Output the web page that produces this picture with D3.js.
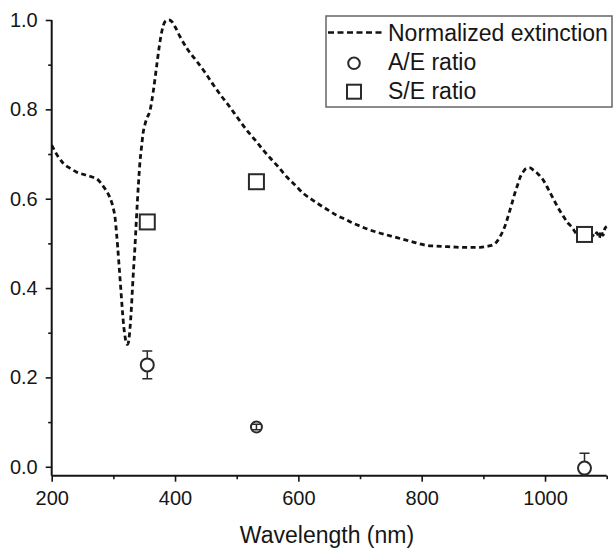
<!DOCTYPE html>
<html>
<head>
<meta charset="utf-8">
<script src="https://cdn.jsdelivr.net/npm/d3@7"></script>
<style>
  html, body { margin: 0; padding: 0; background: #fff; }
  svg { display: block; font-family: "Liberation Sans", Arial, sans-serif; }
</style>
</head>
<body>
<svg id="chart" width="613" height="548"></svg>
<script>
// Normalized extinction spectrum (wavelength in nm, value)
const extWavelength = [200, 210, 219, 230, 240, 255, 267, 276, 284, 291, 297, 300, 303, 305, 307, 309, 311, 313, 315, 317, 319, 321, 323, 325, 327, 329, 331, 333, 335, 337, 339, 341, 343, 346, 348, 351, 355, 359, 365, 370, 376, 381, 386, 390, 395, 400, 408, 420, 435, 450, 462, 475, 489, 502, 516, 530, 543, 555, 567, 581, 595, 608, 622, 635, 649, 662, 676, 689, 703, 716, 730, 743, 757, 770, 784, 797, 810, 820, 835, 851, 865, 880, 895, 905, 916, 922, 927, 934, 940, 946, 951, 956, 960, 965, 970, 976, 981, 989, 997, 1005, 1013, 1021, 1030, 1037, 1043, 1048, 1052, 1055, 1058, 1061, 1064, 1068, 1072, 1076, 1080, 1084, 1088, 1091, 1094, 1097, 1100];
const extValue      = [0.720, 0.695, 0.679, 0.668, 0.660, 0.653, 0.648, 0.641, 0.627, 0.612, 0.593, 0.578, 0.555, 0.525, 0.492, 0.455, 0.418, 0.380, 0.343, 0.312, 0.291, 0.276, 0.274, 0.283, 0.310, 0.350, 0.400, 0.448, 0.492, 0.545, 0.595, 0.640, 0.680, 0.720, 0.745, 0.765, 0.782, 0.795, 0.843, 0.895, 0.955, 0.988, 0.999, 1.000, 0.996, 0.985, 0.963, 0.935, 0.908, 0.880, 0.855, 0.830, 0.805, 0.780, 0.754, 0.731, 0.709, 0.690, 0.672, 0.649, 0.630, 0.612, 0.598, 0.586, 0.574, 0.563, 0.554, 0.545, 0.537, 0.530, 0.524, 0.519, 0.514, 0.509, 0.504, 0.499, 0.495, 0.494, 0.493, 0.492, 0.491, 0.491, 0.491, 0.493, 0.497, 0.504, 0.515, 0.535, 0.560, 0.588, 0.612, 0.633, 0.649, 0.661, 0.668, 0.669, 0.664, 0.655, 0.642, 0.622, 0.601, 0.580, 0.560, 0.546, 0.537, 0.527, 0.519, 0.513, 0.523, 0.516, 0.521, 0.526, 0.512, 0.520, 0.515, 0.524, 0.512, 0.528, 0.518, 0.533, 0.538];

// Absorption / extinction ratio with error
const aeWavelength = [355, 532, 1064];
const aeValue      = [0.228, 0.089, -0.003];
const aeError      = [0.031, 0.006, 0.033];

// Scattering / extinction ratio
const seWavelength = [355, 532, 1064];
const seValue      = [0.548, 0.638, 0.520];

const xTicks = [200, 400, 600, 800, 1000];
const xMinorTicks = [300, 500, 700, 900, 1100];
const yTicks = [0.0, 0.2, 0.4, 0.6, 0.8, 1.0];
const yMinorTicks = [0.1, 0.3, 0.5, 0.7, 0.9];

const legendLabels = ["Normalized extinction", "A/E ratio", "S/E ratio"];
const xTitle = "Wavelength (nm)";

const svg = d3.select("#chart");
const x = d3.scaleLinear().domain([200, 1100]).range([51.7, 606.7]);
const y = d3.scaleLinear().domain([-0.02, 1.0]).range([475.7, 20]);

const ink = "#141414";
const markInk = "#2a2a2a";
const textInk = "#161616";

// clip region for data marks
svg.append("defs").append("clipPath").attr("id", "plotClip")
  .append("rect")
  .attr("x", x(200)).attr("y", 0)
  .attr("width", x(1100) - x(200) + 10).attr("height", y(-0.02) - 0);

// Axes
const xAxis = svg.append("g").attr("transform", `translate(0,${y(-0.02)})`);
xAxis.call(d3.axisBottom(x).tickValues(xTicks).tickSize(6).tickPadding(9).tickFormat(d3.format("d")));
xAxis.append("g").call(d3.axisBottom(x).tickValues(xMinorTicks).tickSize(3.5).tickFormat(""))
  .select(".domain").remove();

const yAxis = svg.append("g").attr("transform", `translate(${x(200)},0)`);
yAxis.call(d3.axisLeft(y).tickValues(yTicks).tickSize(6).tickPadding(8).tickFormat(d3.format(".1f")));
yAxis.append("g").call(d3.axisLeft(y).tickValues(yMinorTicks).tickSize(3.5).tickFormat(""))
  .select(".domain").remove();

svg.selectAll(".domain").attr("stroke", ink).attr("stroke-width", 2);
// domain paths without end ticks
xAxis.select(".domain").attr("d", `M${x(200)},0H${x(1100)}`);
yAxis.select(".domain").attr("d", `M0,${y(-0.02)}V${y(1.0)}`);
svg.selectAll(".tick line").attr("stroke", ink).attr("stroke-width", 1.6);
xAxis.attr("font-size", 20).attr("font-family", "'Liberation Sans', Arial, sans-serif");
yAxis.attr("font-size", 20).attr("font-family", "'Liberation Sans', Arial, sans-serif");
svg.selectAll(".tick text").attr("fill", textInk);

// Axis title
svg.append("text")
  .attr("x", 327).attr("y", 543)
  .attr("text-anchor", "middle")
  .attr("font-size", 23)
  .attr("fill", textInk)
  .text(xTitle);

// Extinction curve
const extData = extWavelength.map((w, i) => [w, extValue[i]]);
const line = d3.line().x(d => x(d[0])).y(d => y(d[1])).curve(d3.curveMonotoneX);
svg.append("path")
  .datum(extData)
  .attr("clip-path", "url(#plotClip)")
  .attr("fill", "none")
  .attr("stroke", "#111")
  .attr("stroke-width", 2.8)
  .attr("stroke-dasharray", "5,3.5")
  .attr("d", line);

// S/E squares
const sq = 15;
svg.append("g").selectAll("rect")
  .data(seWavelength.map((w, i) => [w, seValue[i]]))
  .join("rect")
  .attr("x", d => x(d[0]) - sq / 2)
  .attr("y", d => y(d[1]) - sq / 2)
  .attr("width", sq).attr("height", sq)
  .attr("fill", "#fff")
  .attr("stroke", markInk)
  .attr("stroke-width", 2);

// A/E error bars
const aeData = aeWavelength.map((w, i) => ({ w, v: aeValue[i], e: aeError[i] }));
const eb = svg.append("g").attr("clip-path", "url(#plotClip)")
  .attr("stroke", markInk).attr("stroke-width", 1.5).attr("fill", "none");
aeData.forEach(d => {
  const cx = x(d.w);
  const cap = 5;
  eb.append("line").attr("x1", cx).attr("x2", cx).attr("y1", y(d.v + d.e)).attr("y2", y(d.v - d.e));
  eb.append("line").attr("x1", cx - cap).attr("x2", cx + cap).attr("y1", y(d.v + d.e)).attr("y2", y(d.v + d.e));
  eb.append("line").attr("x1", cx - cap).attr("x2", cx + cap).attr("y1", y(d.v - d.e)).attr("y2", y(d.v - d.e));
});

// A/E circles (transparent fill so small error bars show through)
svg.append("g").selectAll("circle")
  .data(aeData)
  .join("circle")
  .attr("cx", d => x(d.w))
  .attr("cy", d => y(d.v))
  .attr("r", d => d.e < 0.01 ? 5.5 : 6.5)
  .attr("fill", d => d.e < 0.01 ? "none" : "#fff")
  .attr("stroke", markInk)
  .attr("stroke-width", 2);

// Legend
const legend = svg.append("g");
legend.append("rect")
  .attr("x", 326).attr("y", 16)
  .attr("width", 286).attr("height", 91)
  .attr("fill", "#fff")
  .attr("stroke", "#666")
  .attr("stroke-width", 1.5);
legend.append("line")
  .attr("x1", 328).attr("x2", 383).attr("y1", 32.5).attr("y2", 32.5)
  .attr("stroke", "#111").attr("stroke-width", 2.6)
  .attr("stroke-dasharray", "6,3.5");
legend.append("circle")
  .attr("cx", 354).attr("cy", 63.3).attr("r", 5.8)
  .attr("fill", "#fff").attr("stroke", markInk).attr("stroke-width", 2);
legend.append("rect")
  .attr("x", 354 - 7).attr("y", 91.7 - 7).attr("width", 14).attr("height", 14)
  .attr("fill", "#fff").attr("stroke", markInk).attr("stroke-width", 2);
const legendY = [41, 70, 99];
legend.selectAll("text.lbl")
  .data(legendLabels)
  .join("text")
  .attr("class", "lbl")
  .attr("x", 388)
  .attr("y", (d, i) => legendY[i])
  .attr("font-size", 23)
  .attr("fill", textInk)
  .text(d => d);
</script>
</body>
</html>
